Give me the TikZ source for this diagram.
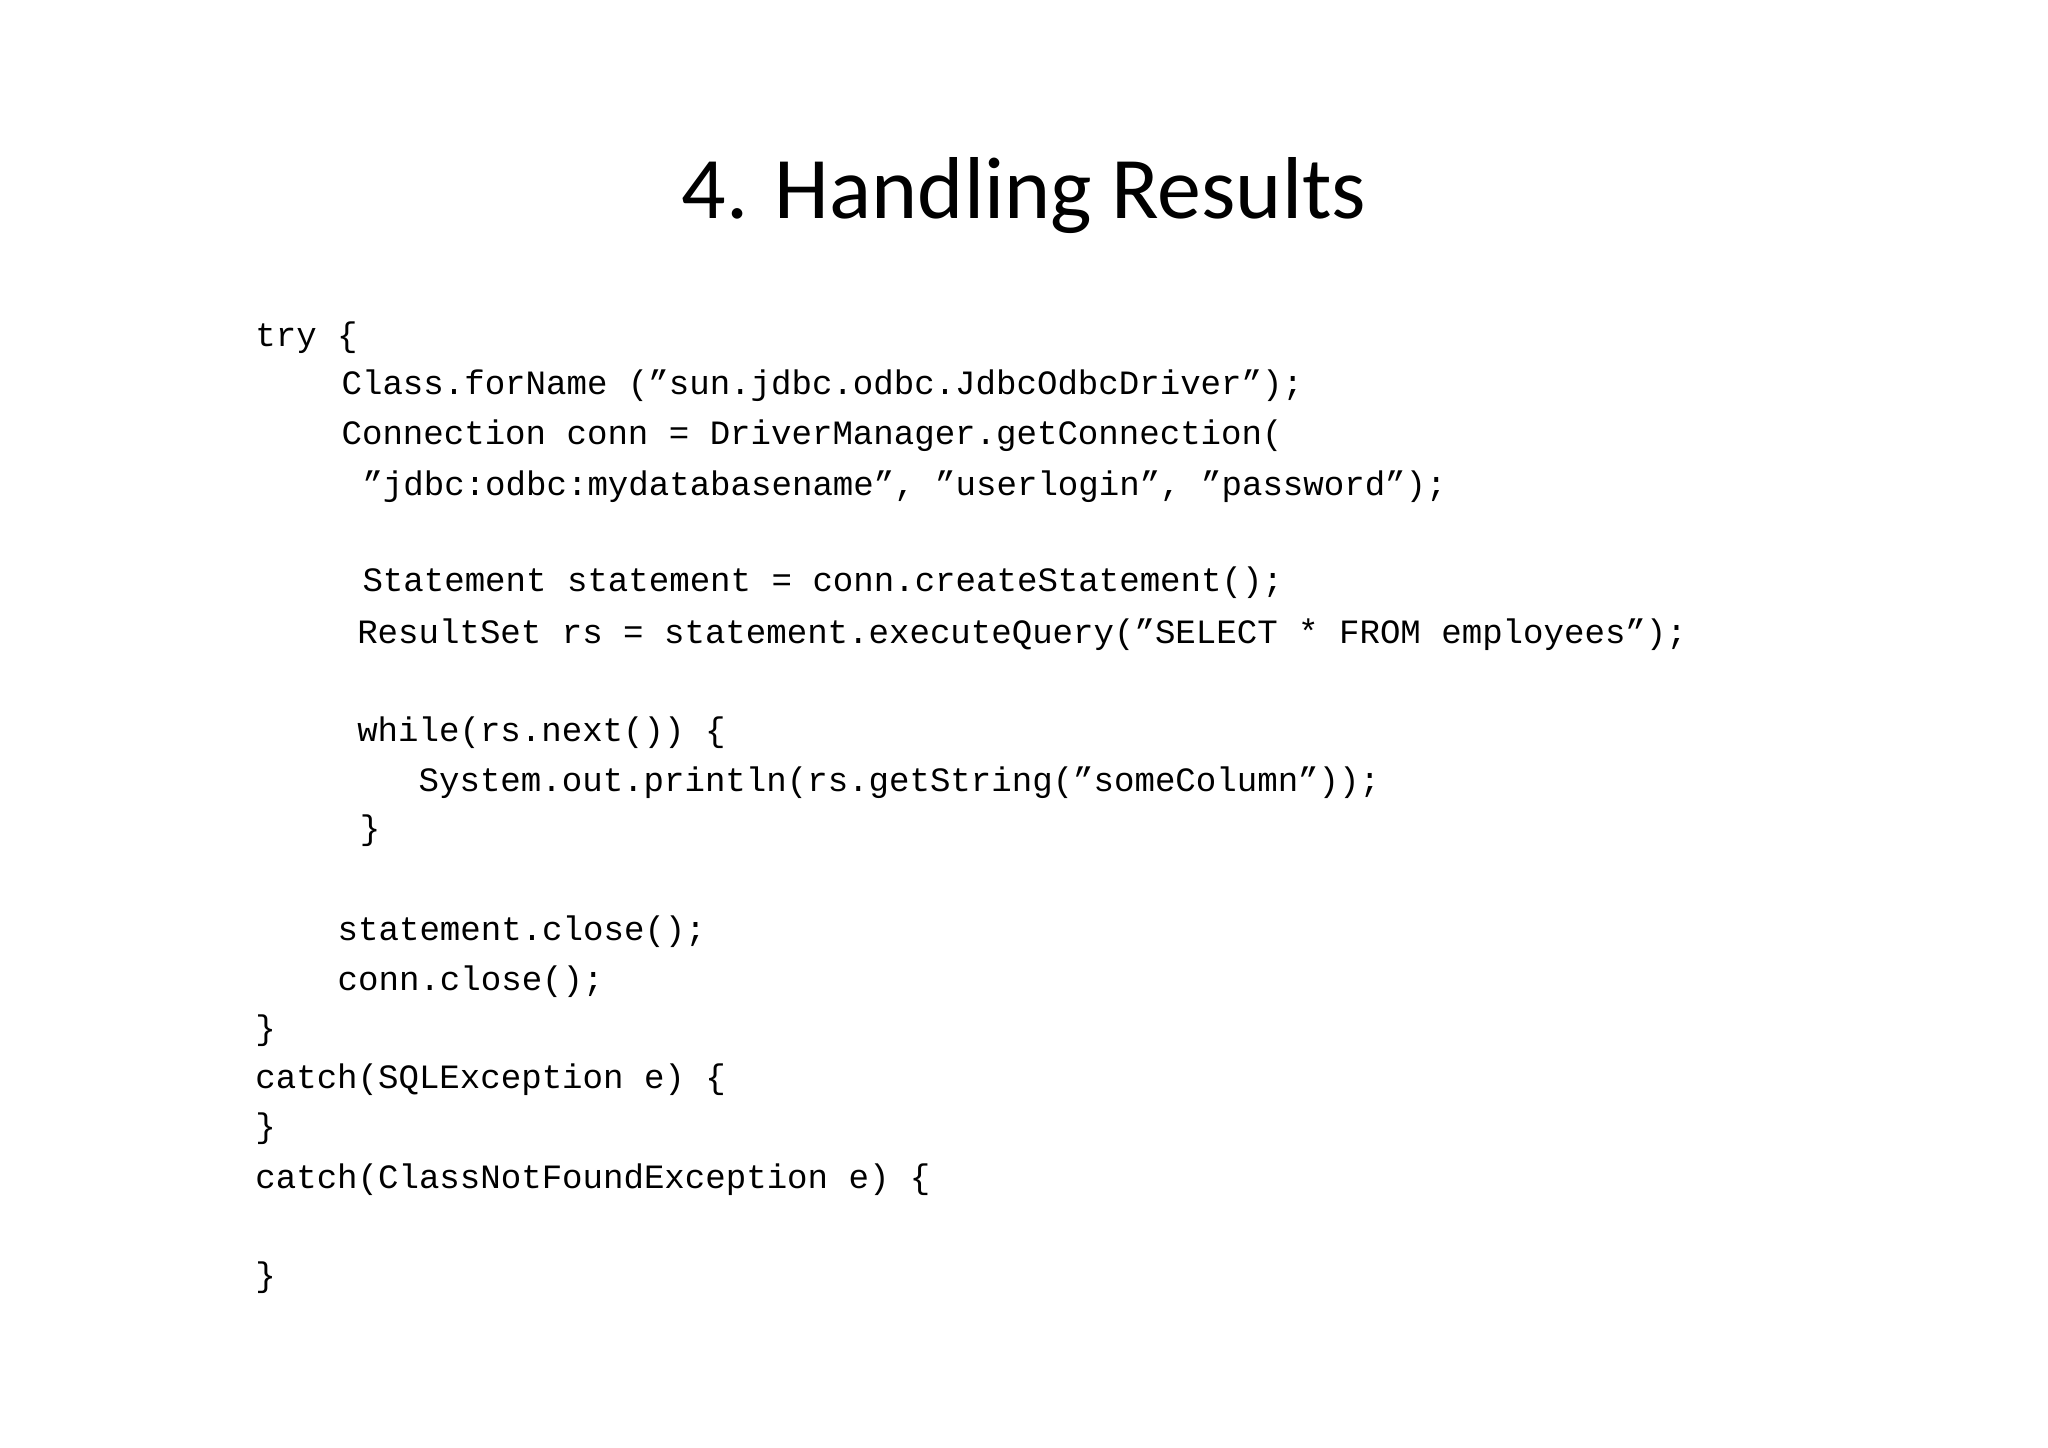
\documentclass[tikz,border=0pt]{standalone}
\usepackage{fontspec}
\setmainfont{Carlito}
\newfontfamily\codefont{Liberation Mono}
\begin{document}
\begin{tikzpicture}[x=0.013061cm,y=-0.013061cm,
  code/.style={anchor=base west,inner sep=0pt,font=\codefont\fontsize{9.7pt}{11pt}\selectfont},
  title/.style={font=\fontsize{25pt}{30pt}\selectfont}]
\useasboundingbox[fill=white] (0,0) rectangle (1568,1108);
\node[title] (t) at (784,150) {4. Handling Results};
\node[code] (l1) at (195,265) {try \{};
\node[code] (l2) at (261,302) {Class.forName (”sun.jdbc.odbc.JdbcOdbcDriver”);};
\node[code] (l3) at (261,340) {Connection conn = DriverManager.getConnection(};
\node[code] (l4) at (277,379) {”jdbc:odbc:mydatabasename”, ”userlogin”, ”password”);};
\node[code] (l5) at (277,453) {Statement statement = conn.createStatement();};
\node[code] (l6) at (273,493) {ResultSet rs = statement.executeQuery(”SELECT * FROM employees”);};
\node[code] (l7) at (273,568) {while(rs.next()) \{};
\node[code] (l8) at (320,606) {System.out.println(rs.getString(”someColumn”));};
\node[code] (l9) at (275,643) {\}};
\node[code] (l10) at (258,720) {statement.close();};
\node[code] (l11) at (258,758) {conn.close();};
\node[code] (l12) at (195,796) {\}};
\node[code] (l13) at (195,833) {catch(SQLException e) \{};
\node[code] (l14) at (195,871) {\}};
\node[code] (l15) at (195,910) {catch(ClassNotFoundException e) \{};
\node[code] (l16) at (195,985) {\}};
\end{tikzpicture}
\end{document}
